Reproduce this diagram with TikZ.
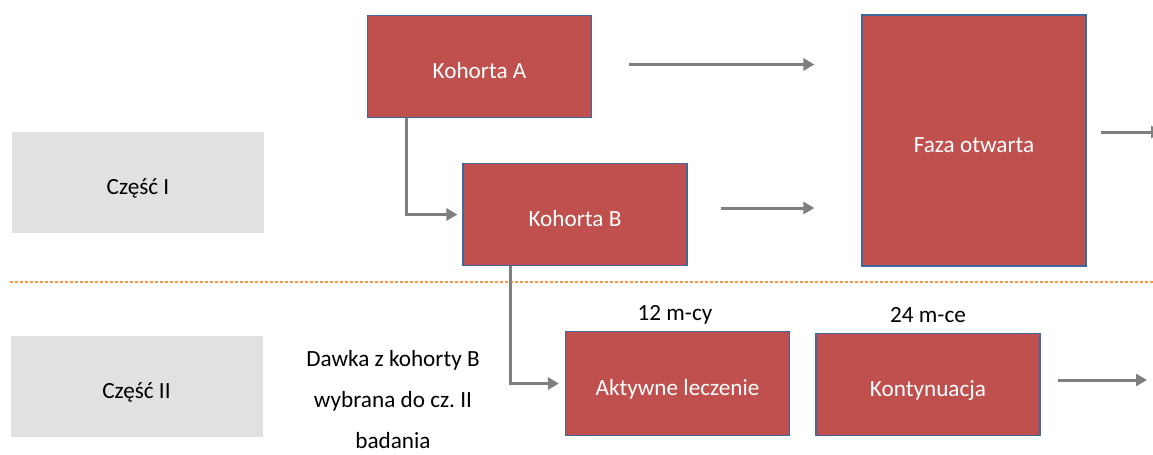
\documentclass[tikz,border=0pt]{standalone}
\usepackage{fontspec}
\setmainfont{Carlito}
\usetikzlibrary{arrows.meta}
\definecolor{boxred}{HTML}{C0504D}
\definecolor{boxline}{HTML}{41679F}
\definecolor{partgray}{HTML}{E1E1E1}
\definecolor{arrgray}{HTML}{7F7F7F}
\definecolor{sepline}{HTML}{F79646}

\begin{document}
\begin{tikzpicture}[x=0.5pt,y=-0.5pt,
	every node/.style={font=\fontsize{11.6}{13}\selectfont},
	cohort/.style={shape=rectangle,fill=boxred,draw=boxline,line width=0.6pt,text=white,minimum width=112pt,minimum height=51pt,inner sep=0pt,text height=12pt,text depth=0pt},
	part/.style={shape=rectangle,fill=partgray,minimum width=126pt,minimum height=50.5pt,inner sep=0pt,text height=12pt,text depth=0pt},
	arr/.style={draw=arrgray,line width=1.5pt,-{Triangle[length=5.5pt,width=6pt]}}]
	
	\useasboundingbox (0,0) rectangle (1153,455);
	
	\node[part] (partI)  at (138, 182.5)   {Część I};
	\node[part] (partII) at (136.5, 386)   {Część II};
	
	\node[cohort] (kohA) at (479.5, 66.5)  {Kohorta A};
	\node[cohort] (kohB) at (575, 214.5)   {Kohorta B};
	\node[cohort,minimum height=125.5pt] (faza) at (974, 140.5) {Faza otwarta};
	\node[cohort,minimum height=52pt] (akt) at (677.5, 383.5) {Aktywne leczenie};
	\node[cohort] (kont) at (928, 384.5)   {Kontynuacja};
	
	\node (mA) at (675, 315) {12 m-cy};
	\node (mB) at (928, 315) {24 m-ce};
	\node[align=center,font=\fontsize{11.6}{20.5}\selectfont] (dawka) at (393, 400) {Dawka z kohorty B\\wybrana do cz.~II\\badania};
	
	\coordinate (fazaout) at (1162, 132);
	\coordinate (kontout) at (1147, 380);
	
	\draw[sepline,line width=0.75pt,dash pattern=on 1.5pt off 1pt] (10, 282) -- (1153, 282);
	
	\draw[arr,shorten <=18.5pt,shorten >=23.5pt] ([yshift=1pt]kohA.east) -- ([yshift=1pt]kohA.east -| faza.west);
	\draw[arr,shorten <=16.5pt,shorten >=23.5pt] ([yshift=3.25pt]kohB.east) -- ([yshift=3.25pt]kohB.east -| faza.west);
	\draw[arr,shorten <=7pt] (faza.east |- fazaout) -- (fazaout);
	\draw[arr,shorten <=8.5pt] (kont.east |- kontout) -- (kontout);
	\draw[arr,shorten >=2.5pt] ([xshift=20pt]kohA.south west) |- (kohB.west);
	\draw[arr,shorten >=3pt] ([xshift=24pt]kohB.south west) |- (akt.west);
	
\end{tikzpicture}
\end{document}
